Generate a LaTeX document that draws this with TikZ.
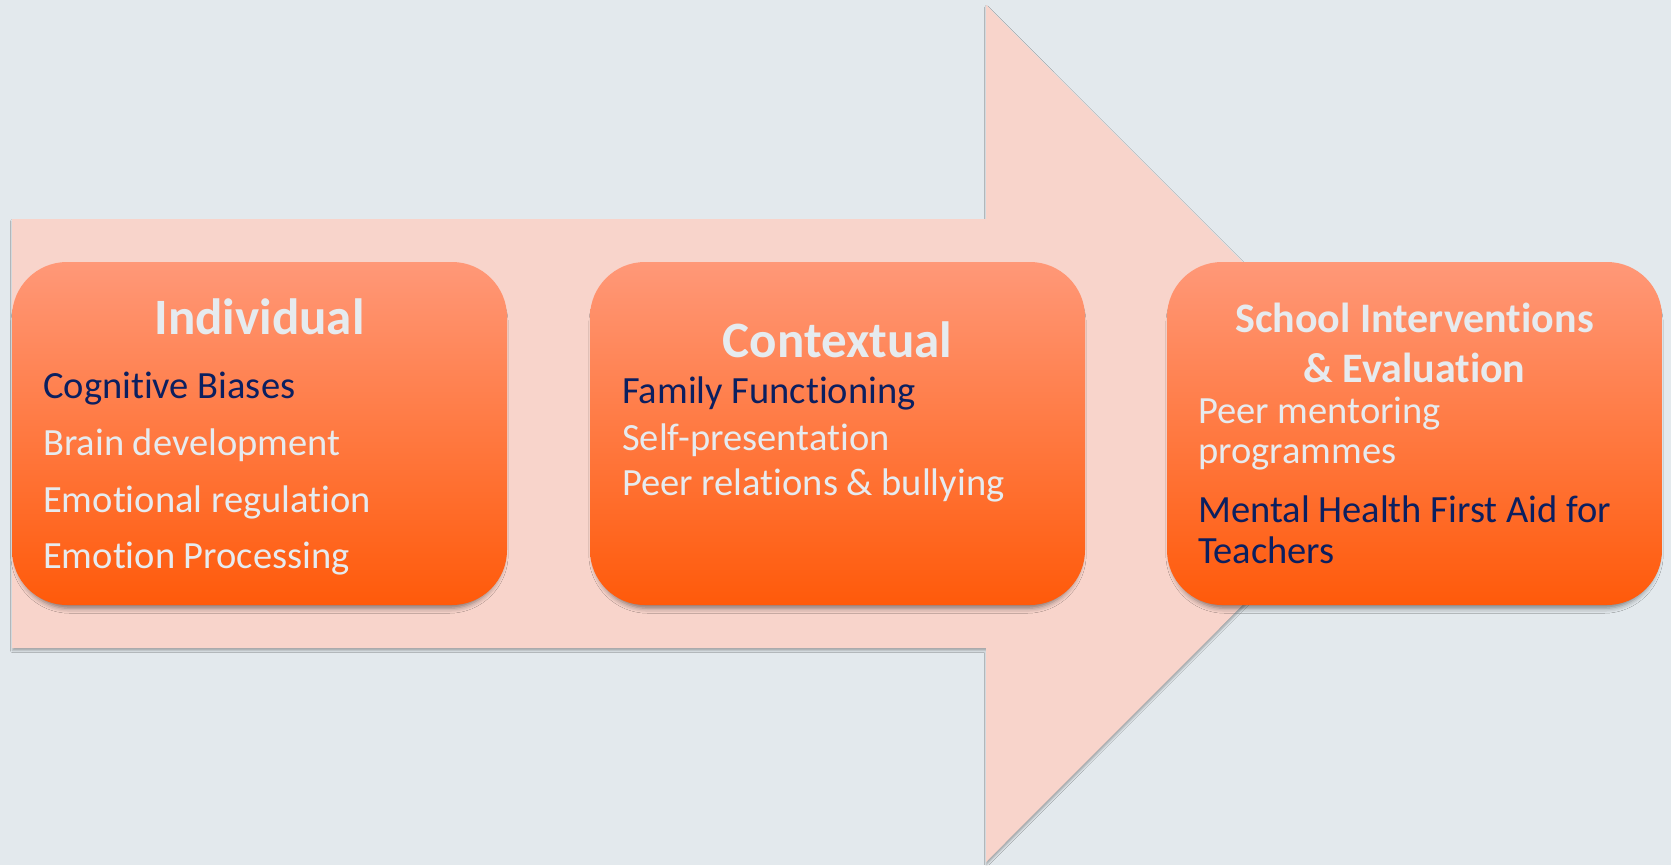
\documentclass[tikz,border=0pt]{standalone}
\usepackage{fontspec}
\setmainfont{Carlito}[Ligatures=NoCommon]
\usetikzlibrary{shadows.blur}

\definecolor{canvas}{HTML}{E3E9ED}
\definecolor{arrowfill}{HTML}{F8D4CB}
\definecolor{boxtop}{HTML}{FF9878}
\definecolor{boxbottom}{HTML}{FF5A0A}
\definecolor{lighttext}{HTML}{E6EBEF}
\definecolor{darktext}{HTML}{0B1F60}

\tikzset{
  stagebox/.style={
    minimum width=495pt, minimum height=343pt, inner sep=0pt,
    rounded corners=55pt, top color=boxtop, bottom color=boxbottom,
    draw=none,
    blur shadow={shadow xshift=0pt, shadow yshift=-6pt, shadow scale=0.985,
                 shadow blur radius=5pt, shadow opacity=45}},
  bigtitle/.style={anchor=base, inner sep=0pt, text=lighttext,
    font=\fontsize{51}{60}\selectfont\bfseries},
  smalltitle/.style={anchor=base, inner sep=0pt, text=lighttext,
    font=\fontsize{42}{50}\selectfont\bfseries},
  item/.style={anchor=base west, inner sep=0pt,
    font=\fontsize{38.5}{46}\selectfont},
  lightitem/.style={item, text=lighttext},
  darkitem/.style={item, text=darktext},
}

\begin{document}
\begin{tikzpicture}[x=1pt, y=-1pt]
  % canvas
  \fill[canvas] (0,0) rectangle (1671,865);
  \useasboundingbox (0,0) rectangle (1671,865);

  % the big pale arrow behind the three stages
  \coordinate (tail) at (12,219);
  \fill[arrowfill,
        blur shadow={shadow xshift=0.5pt, shadow yshift=-2.5pt,
                     shadow blur radius=2pt, shadow opacity=30}]
    (tail) -- (986,219) -- (986,5) -- (1414,433.5) -- (986,862)
    -- (986,648) -- (12,648) -- cycle;

  % stage boxes
  \node[stagebox] (b1) at (259.5,433.5) {};
  \node[stagebox] (b2) at (837.5,433.5) {};
  \node[stagebox] (b3) at (1414.5,433.5) {};

  % stage 1
  \node[bigtitle] (t1) at (259.5,334) {Individual};
  \node[darkitem]  (i11) at (43,398) {Cognitive Biases};
  \node[lightitem] (i12) at (43,455) {Brain development};
  \node[lightitem] (i13) at (43,512) {Emotional regulation};
  \node[lightitem] (i14) at (43,568) {Emotion Processing};

  % stage 2
  \node[bigtitle] (t2) at (837.5,357) {Contextual};
  \node[darkitem]  (i21) at (622,403) {Family Functioning};
  \node[lightitem] (i22) at (622,450) {Self-presentation};
  \node[lightitem] (i23) at (622,495) {Peer relations \& bullying};

  % stage 3
  \node[smalltitle] (t3a) at (1414.5,332) {School Interventions};
  \node[smalltitle] (t3b) at (1414.5,382) {\& Evaluation};
  \node[lightitem] (i31a) at (1198,423) {Peer mentoring};
  \node[lightitem] (i31b) at (1198,463) {programmes};
  \node[darkitem]  (i32a) at (1198,522) {Mental Health First Aid for};
  \node[darkitem]  (i32b) at (1198,563) {Teachers};
\end{tikzpicture}
\end{document}
